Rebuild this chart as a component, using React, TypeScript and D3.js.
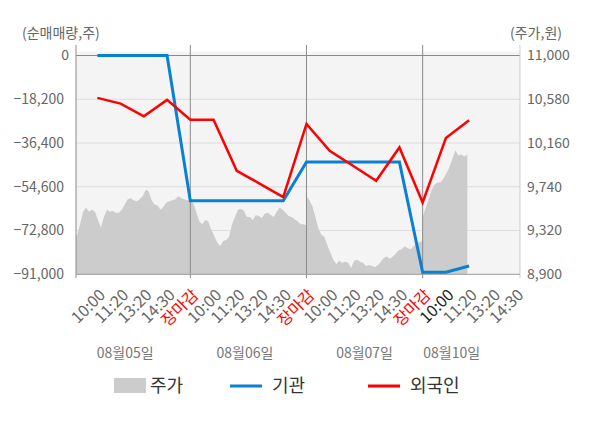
import React from "react";
import * as d3 from "d3";

// slot labels along the bottom (5 per trading day, last day cut off)
const slotLabels = [
  "10:00", "11:20", "13:20", "14:30", "장마감",
  "10:00", "11:20", "13:20", "14:30", "장마감",
  "10:00", "11:20", "13:20", "14:30", "장마감",
  "10:00", "11:20", "13:20", "14:30",
];
const dayLabels = ["08월05일", "08월06일", "08월07일", "08월10일"];
const dayLabelSlot = [1.2, 6.35, 11.5, 15.25];

const leftTicks = [0, -18200, -36400, -54600, -72800, -91000];
const rightTicks = [11000, 10580, 10160, 9740, 9320, 8900];

// net buying per slot (주)
const institution = [
  0, 0, 0, 0, -60450,
  -60450, -60450, -60450, -60450, -44320,
  -44320, -44320, -44320, -44320, -90170,
  -90170, -87550,
];
const foreigner = [
  -17630, -20010, -25300, -18470, -26680,
  -26680, -47940, -53360, -58900, -28470,
  -39600, -45850, -52110, -38230, -61150,
  -34310, -26970,
];

// price every 10 minutes from 09:00 (원)
const priceDay1 = [
  9270, 9280, 9380, 9500, 9540, 9500, 9520, 9500, 9420, 9350,
  9450, 9520, 9500, 9510, 9490, 9490, 9520, 9570, 9620, 9630,
  9610, 9600, 9620, 9650, 9710, 9700, 9610, 9570, 9560, 9520,
  9550, 9590, 9600, 9610, 9620, 9650, 9630, 9620, 9610, 9610,
];
const priceDay2 = [
  9610, 9580, 9500, 9410, 9380, 9420, 9410, 9330, 9270, 9210,
  9170, 9220, 9230, 9260, 9380, 9450, 9520, 9530, 9510, 9450,
  9450, 9420, 9470, 9460, 9440, 9480, 9490, 9470, 9450, 9500,
  9540, 9520, 9490, 9460, 9450, 9430, 9410, 9380, 9380, 9370,
];
const priceDay3 = [
  9650, 9610, 9550, 9450, 9340, 9280, 9260, 9180, 9110, 9040,
  9000, 9030, 9010, 9020, 9010, 8960, 9030, 9040, 9020, 9010,
  8980, 8990, 8980, 8970, 8990, 9020, 9060, 9070, 9050, 9070,
  9100, 9130, 9140, 9170, 9150, 9140, 9170, 9200, 9210, 9220,
];
const priceDay4 = [
  9450, 9540, 9620, 9710, 9760, 9780, 9780, 9820, 9870, 9930,
  10010, 10090, 10040, 10050, 10030, 10050,
];
const priceDays = [priceDay1, priceDay2, priceDay3, priceDay4];

const FONT = "'Noto Sans CJK KR', 'Noto Sans', sans-serif";

export default function App() {
  const W = 600, H = 428;
  const left = 76, right = 520, top = 55.5, bottom = 274.3;

  const x = d3.scaleLinear().domain([-0.92, 18.19]).range([left, right]);
  const yL = d3.scaleLinear().domain([-91000, 0]).range([bottom, top]);
  const yR = d3.scaleLinear().domain([8900, 11000]).range([bottom, top]);

  // 1 slot = 78 minutes, day d opens at slot 5d-1
  const pricePts: [number, number][] = [];
  priceDays.forEach((arr, d) => {
    arr.forEach((p, k) => pricePts.push([5 * d - 1 + (k * 10) / 78, p]));
  });

  const area = d3
    .area<[number, number]>()
    .x((d) => x(d[0]))
    .y0(bottom)
    .y1((d) => yR(d[1]));

  const line = d3
    .line<number>()
    .x((_, i) => x(i))
    .y((d) => yL(d));

  const dayBounds = [4, 9, 14];

  return (
    <svg
      width={W}
      height={H}
      style={{ position: "absolute", left: 0, top: 0, fontFamily: FONT }}
    >
      <defs>
        <clipPath id="plot">
          <rect x={left} y={51.7} width={right - left} height={bottom - 51.7} />
        </clipPath>
      </defs>
      <rect x={0} y={0} width={W} height={H} fill="#fff" />
      <rect x={left} y={51.7} width={right - left} height={bottom - 51.7} fill="#f4f4f4" />

      {/* grid */}
      {leftTicks.slice(1, -1).map((t) => (
        <line key={t} x1={left} x2={right} y1={yL(t)} y2={yL(t)} stroke="#dcdcdc" />
      ))}

      {/* price area */}
      <path d={area(pricePts) || ""} fill="#cccccc" clipPath="url(#plot)" />

      <line x1={left} x2={right} y1={yL(0)} y2={yL(0)} stroke="#8a8a8a" />

      {/* day separators & axes */}
      {dayBounds.map((b) => (
        <line key={b} x1={x(b)} x2={x(b)} y1={45} y2={278} stroke="#8a8a8a" />
      ))}
      <line x1={left} x2={left} y1={45} y2={278} stroke="#8a8a8a" />
      <line x1={right} x2={right} y1={45} y2={278} stroke="#cfcfcf" />
      <line x1={left} x2={right} y1={bottom} y2={bottom} stroke="#999" />

      {/* series */}
      <path d={line(institution) || ""} fill="none" stroke="#0a80d0" strokeWidth={3} />
      <path d={line(foreigner) || ""} fill="none" stroke="#ff0000" strokeWidth={2.5} />

      {/* left axis */}
      {leftTicks.map((t) => (
        <text key={t} x={t === 0 ? 69 : 64} y={yL(t)} dy="0.35em" textAnchor="end" fontSize={14} fill="#666">
          {d3.format(",")(t)}
        </text>
      ))}
      {/* right axis */}
      {rightTicks.map((t) => (
        <text key={t} x={527} y={yR(t)} dy="0.35em" fontSize={14} fill="#666">
          {d3.format(",")(t)}
        </text>
      ))}
      <text x={22} y={38} fontSize={14} fill="#666">(순매매량,주)</text>
      <text x={562} y={38} fontSize={14} fill="#666" textAnchor="end">(주가,원)</text>

      {/* slot labels */}
      {slotLabels.map((s, i) => {
        const ax = x(i) + 9;
        const ay = 296;
        const color = s === "장마감" ? "#ff0000" : i === 15 ? "#222" : "#666";
        return (
          <text
            key={i}
            x={ax}
            y={ay}
            textAnchor="end"
            fontSize={16}
            fill={color}
            transform={`rotate(-45 ${ax} ${ay})`}
          >
            {s}
          </text>
        );
      })}
      {dayLabels.map((d, i) => (
        <text key={d} x={x(dayLabelSlot[i])} y={353} dy="0.35em" textAnchor="middle" fontSize={14} fill="#777">
          {d}
        </text>
      ))}

      {/* legend */}
      <rect x={114} y={378} width={32} height={15} fill="#cccccc" />
      <text x={150} y={386} dy="0.35em" fontSize={18} fill="#333">주가</text>
      <line x1={230} x2={262} y1={386} y2={386} stroke="#0a80d0" strokeWidth={3} />
      <text x={272} y={386} dy="0.35em" fontSize={18} fill="#333">기관</text>
      <line x1={368} x2={400} y1={386} y2={386} stroke="#ff0000" strokeWidth={3} />
      <text x={410} y={386} dy="0.35em" fontSize={18} fill="#333">외국인</text>
    </svg>
  );
}
